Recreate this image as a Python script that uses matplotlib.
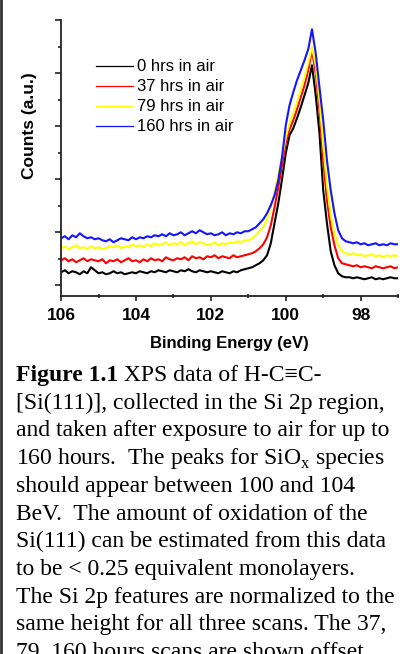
import numpy as np
import matplotlib
matplotlib.use("Agg")
import matplotlib.pyplot as plt
from matplotlib.lines import Line2D
from matplotlib.ticker import MultipleLocator

plt.rcParams['mathtext.fontset'] = 'custom'
plt.rcParams['mathtext.rm'] = 'Liberation Serif'

# binding energy grid (eV), 0.1 eV steps from 106 down to 97
energy = np.linspace(106.0, 97.0, 91)

# counts (a.u.); later scans already shown offset
counts_0h = [13, 15, 12, 14, 13, 11, 14, 12, 18, 15,
             12, 13, 11, 12, 14, 12, 13, 11, 12, 13,
             12, 14, 13, 12, 14, 13, 15, 14, 13, 15,
             14, 13, 15, 14, 16, 14, 13, 15, 14, 13,
             14, 13, 12, 14, 13, 12, 14, 13, 15, 16,
             17, 18, 20, 22, 25, 30, 42, 62, 82, 106,
             132, 150, 157, 167, 178, 190, 202, 220, 190, 152,
             95, 62, 34, 20, 12, 9, 8, 8, 7, 8,
             7, 6, 7, 8, 6, 7, 6, 7, 8, 7, 7]
counts_37h = [25, 27, 24, 26, 23, 25, 27, 24, 26, 25,
              24, 26, 22, 25, 24, 26, 23, 25, 27, 24,
              25, 23, 26, 24, 27, 25, 26, 24, 28, 26,
              25, 27, 26, 28, 25, 29, 27, 28, 26, 29,
              28, 30, 27, 29, 28, 27, 30, 28, 29, 30,
              31, 32, 34, 37, 41, 48, 60, 78, 98, 120,
              142, 156, 165, 176, 188, 200, 215, 235, 212, 175,
              125, 85, 58, 40, 27, 22, 21, 20, 19, 20,
              18, 19, 18, 17, 19, 18, 17, 18, 19, 17, 18]
counts_79h = [37, 39, 36, 38, 40, 37, 38, 36, 39, 37,
              38, 36, 37, 39, 38, 40, 37, 39, 38, 41,
              39, 40, 38, 41, 39, 42, 40, 41, 43, 40,
              42, 41, 43, 40, 42, 44, 41, 43, 42, 40,
              41, 43, 40, 42, 41, 43, 42, 44, 43, 45,
              45, 47, 50, 54, 58, 66, 78, 92, 110, 128,
              148, 162, 172, 183, 195, 208, 222, 238, 220, 185,
              140, 100, 70, 52, 40, 34, 32, 31, 32, 30,
              31, 29, 30, 31, 29, 30, 28, 30, 29, 30, 29]
counts_160h = [47, 49, 46, 50, 48, 52, 49, 47, 48, 46,
               47, 45, 44, 46, 43, 45, 47, 46, 45, 48,
               46, 48, 47, 49, 48, 50, 49, 51, 49, 52,
               50, 51, 53, 50, 52, 54, 52, 55, 53, 51,
               52, 50, 51, 53, 50, 52, 51, 53, 52, 54,
               54, 56, 58, 62, 66, 72, 80, 90, 105, 128,
               160, 180, 193, 205, 215, 225, 236, 256, 232, 198,
               165, 125, 95, 72, 55, 47, 44, 43, 42, 43,
               41, 42, 40, 41, 42, 40, 41, 40, 42, 41, 41]

labels = ['0 hrs in air', '37 hrs in air', '79 hrs in air', '160 hrs in air']
colors = ['black', '#ff0000', '#ffff00', '#1414ff']

caption = [
    "[Si(111)], collected in the Si 2p region,",
    "and taken after exposure to air for up to",
    "160 hours.  The peaks for SiO$_{\\mathrm{x}}$ species",
    "should appear between 100 and 104",
    "BeV.  The amount of oxidation of the",
    "Si(111) can be estimated from this data",
    "to be < 0.25 equivalent monolayers.",
    "The Si 2p features are normalized to the",
    "same height for all three scans. The 37,",
    "79, 160 hours scans are shown offset.",
]

fig = plt.figure(figsize=(4.10, 6.54), dpi=100)
ax = fig.add_axes([0.149, 0.547, 0.822, 0.422])

series = [counts_0h, counts_37h, counts_79h, counts_160h]
for ys, c in zip(series, colors):
    ax.plot(energy, ys, color=c, lw=1.5)

ax.set_xlim(106, 97)
ax.set_ylim(-11, 265)
ax.xaxis.set_major_locator(MultipleLocator(2))
ax.xaxis.set_minor_locator(MultipleLocator(1))
ax.yaxis.set_major_locator(MultipleLocator(53))
ax.yaxis.set_minor_locator(MultipleLocator(26.5))
ax.set_yticklabels([])
for s in ['top', 'right']:
    ax.spines[s].set_visible(False)
for s in ['left', 'bottom']:
    ax.spines[s].set_linewidth(1.3)
    ax.spines[s].set_color('#222222')
ax.tick_params(axis='y', which='major', direction='out', length=4.5, width=1.2, color='#222222')
ax.tick_params(axis='y', which='minor', direction='out', length=2.5, width=1.2, color='#222222')
ax.tick_params(axis='x', which='major', direction='out', length=3.5, width=1.2, color='#222222', pad=5)
ax.tick_params(axis='x', which='minor', direction='inout', length=3, width=1.2, color='#222222')
for t in ax.get_xticklabels():
    t.set_fontfamily('Liberation Sans')
    t.set_fontweight('bold')
    t.set_fontsize(12.5)
ax.set_xlabel('Binding Energy (eV)', family='Liberation Sans', weight='bold', fontsize=12, labelpad=9)
ax.set_ylabel('Counts (a.u.)', family='Liberation Sans', weight='bold', fontsize=12.5)
ax.yaxis.set_label_coords(-0.07, 0.62)

handles = [Line2D([], [], color=c, lw=0.9) for c in colors]
ax.legend(handles, labels, loc='upper left', bbox_to_anchor=(0.105, 0.858), frameon=False,
          prop={'family': 'Liberation Sans', 'size': 12}, handlelength=2.2,
          handletextpad=0.25, labelspacing=0.3, borderpad=0, borderaxespad=0)

# caption below the plot (last line runs off the page, as in the source)
serif = ['Liberation Serif', 'DejaVu Serif']
fs = 17
x0 = 16 / 410
base0 = 381
step = 27.7
t = fig.text(x0, 1 - base0 / 654, 'Figure 1.1', family=serif, weight='bold', fontsize=fs, va='baseline')
fig.canvas.draw()
bb = t.get_window_extent()
x1 = bb.x1 / fig.bbox.width
fig.text(x1, 1 - base0 / 654, ' XPS data of H-C\u2261C-', family=serif, fontsize=fs, va='baseline')
for i, line in enumerate(caption):
    fig.text(x0, 1 - (base0 + step * (i + 1)) / 654, line, family=serif, fontsize=fs, va='baseline')

# page edge on the left
fig.add_artist(Line2D([0.003, 0.003], [0, 1], transform=fig.transFigure, color='#333333', lw=2))

fig.savefig('out.png', dpi=100)
